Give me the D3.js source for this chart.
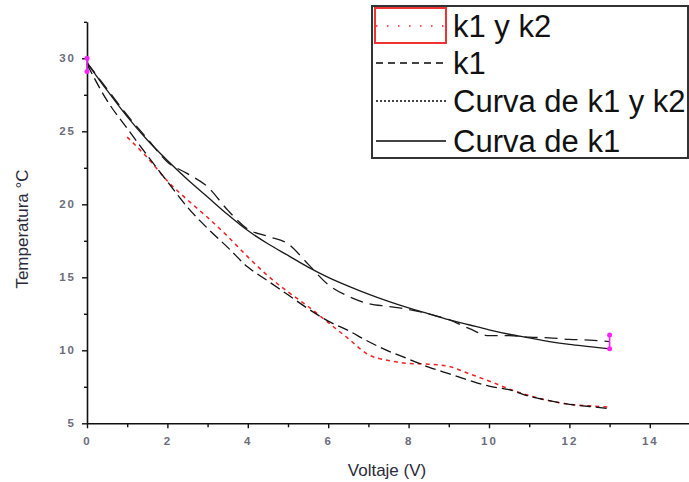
<!DOCTYPE html>
<html>
<head>
<meta charset="utf-8">
<script src="https://cdn.jsdelivr.net/npm/d3@7"></script>
<style>
  body { margin: 0; background: #fff; }
  svg { display: block; }
</style>
</head>
<body>
<svg id="chart"></svg>
<script>
// valores (Voltaje en V, Temperatura en °C)
const voltaje = [0, 0.5, 1, 1.5, 2, 2.5, 3, 3.5, 4, 4.5, 5, 5.5, 6, 6.5, 7, 7.5, 8, 8.5, 9, 9.5, 10, 10.5, 11, 11.5, 12, 12.5, 13];

const k1 = [29.7, 27.9, 26.1, 24.5, 22.9, 22.1, 21.2, 19.6, 18.3, 17.8, 17.3, 15.9, 14.5, 13.7, 13.2, 13.0, 12.8, 12.5, 12.1, 11.5, 11.0, 11.0, 10.9, 10.85, 10.75, 10.7, 10.6];
const curvaK1 = [29.7, 27.8, 26.0, 24.4, 23.0, 21.7, 20.5, 19.3, 18.2, 17.3, 16.5, 15.7, 15.0, 14.4, 13.85, 13.35, 12.9, 12.5, 12.1, 11.75, 11.4, 11.1, 10.85, 10.6, 10.4, 10.25, 10.1];
const curvaK1K2 = [29.6, 27.1, 25.2, 23.35, 21.55, 19.8, 18.35, 17.05, 15.7, 14.75, 13.8, 12.85, 12.0, 11.35, 10.6, 9.95, 9.4, 8.85, 8.4, 7.95, 7.55, 7.3, 6.85, 6.55, 6.3, 6.15, 6.0];
// la serie roja empieza en 1 V
const voltajeK1K2 = [1, 1.5, 2, 2.5, 3, 3.5, 4, 4.5, 5, 5.5, 6, 6.5, 7, 7.5, 8, 8.5, 9, 9.5, 10, 10.5, 11, 11.5, 12, 12.5, 13];
const k1k2 = [24.6, 23.2, 21.6, 20.3, 19.1, 17.8, 16.4, 15.1, 14.0, 13.0, 11.9, 10.8, 9.7, 9.3, 9.1, 9.05, 8.9, 8.4, 7.9, 7.35, 6.9, 6.55, 6.3, 6.2, 6.1];

// puntos magenta (barras) en los extremos
const marcasX = [0, 13];
const marcasAlto = [30.0, 11.05];
const marcasBajo = [29.1, 10.1];

const xTicks = [0, 2, 4, 6, 8, 10, 12, 14];
const xMinor = [1, 3, 5, 7, 9, 11, 13, 15];
const yTicks = [5, 10, 15, 20, 25, 30];
const yMinor = [7.5, 12.5, 17.5, 22.5, 27.5, 32.5];

const leyenda = ["k1 y k2", "k1", "Curva de k1 y k2", "Curva de k1"];

const width = 689, height = 482;
const svg = d3.select("#chart").attr("width", width).attr("height", height);

const x = d3.scaleLinear().domain([0, 15]).range([87, 690]);
const y = d3.scaleLinear().domain([5, 32.5]).range([423.3, 21.8]);

const tickFont = "'Liberation Sans', Arial, sans-serif";

// ejes
const xAxis = svg.append("g").attr("transform", `translate(0, ${y(5)})`)
    .call(d3.axisBottom(x).tickValues(xTicks).tickSize(5).tickSizeOuter(0).tickPadding(9));
const xAxisMinor = svg.append("g").attr("transform", `translate(0, ${y(5)})`)
    .call(d3.axisBottom(x).tickValues(xMinor).tickSize(4).tickSizeOuter(0).tickFormat(""));
const yAxis = svg.append("g").attr("transform", `translate(${x(0)}, 0)`)
    .call(d3.axisLeft(y).tickValues(yTicks).tickSize(5).tickSizeOuter(0).tickPadding(6));
const yAxisMinor = svg.append("g").attr("transform", `translate(${x(0)}, 0)`)
    .call(d3.axisLeft(y).tickValues(yMinor).tickSize(3).tickSizeOuter(0).tickFormat(""));

svg.selectAll(".domain").attr("stroke", "#111").attr("stroke-width", 1.6);
svg.selectAll(".tick line").attr("stroke", "#111").attr("stroke-width", 1.4);
xAxisMinor.select(".domain").remove();
yAxisMinor.select(".domain").remove();
svg.selectAll(".tick text")
    .attr("fill", "#6c6c7c")
    .attr("font-family", tickFont)
    .attr("font-weight", "bold")
    .attr("font-size", "11.5px")
    .attr("letter-spacing", "2px");

// titulos de ejes
svg.append("text")
    .attr("x", 387).attr("y", 476)
    .attr("text-anchor", "middle")
    .attr("font-family", tickFont)
    .attr("font-size", "17px")
    .attr("fill", "#2a2a3a")
    .text("Voltaje (V)");

svg.append("text")
    .attr("transform", "translate(28, 229) rotate(-90)")
    .attr("text-anchor", "middle")
    .attr("font-family", tickFont)
    .attr("font-size", "17px")
    .attr("fill", "#2a2a3a")
    .text("Temperatura °C");

// lineas
const line = d3.line().x(d => x(d[0])).y(d => y(d[1])).curve(d3.curveMonotoneX);

const series = [
    { xs: voltaje, ys: curvaK1, color: "#1a1a1a", w: 1.3, dash: null },
    { xs: voltaje, ys: k1, color: "#1a1a1a", w: 1.3, dash: "13,7" },
    { xs: voltajeK1K2, ys: k1k2, color: "#ee2222", w: 1.5, dash: "4,4" },
    { xs: voltaje, ys: curvaK1K2, color: "#111", w: 1.3, dash: "11,5" }
];

svg.append("g").selectAll("path")
    .data(series)
    .join("path")
    .attr("d", s => line(s.xs.map((v, i) => [v, s.ys[i]])))
    .attr("fill", "none")
    .attr("stroke", s => s.color)
    .attr("stroke-width", s => s.w)
    .attr("stroke-dasharray", s => s.dash);

// marcas magenta
const marcas = svg.append("g");
marcas.selectAll("line")
    .data(marcasX)
    .join("line")
    .attr("x1", d => x(d)).attr("x2", d => x(d))
    .attr("y1", (d, i) => y(marcasAlto[i]))
    .attr("y2", (d, i) => y(marcasBajo[i]))
    .attr("stroke", "#ff22ff").attr("stroke-width", 1.6);
marcas.selectAll("circle")
    .data(marcasX.flatMap((d, i) => [[d, marcasAlto[i]], [d, marcasBajo[i]]]))
    .join("circle")
    .attr("cx", d => x(d[0])).attr("cy", d => y(d[1]))
    .attr("r", 2.5)
    .attr("fill", "#ff22ff");

// leyenda
const leg = svg.append("g");
leg.append("rect")
    .attr("x", 372).attr("y", 6).attr("width", 316).attr("height", 152)
    .attr("fill", "#fff").attr("stroke", "#333").attr("stroke-width", 2);

const legRows = [
    { y: 26, color: "#ff5555", w: 1.8, dash: "1.5,9.5" },
    { y: 63, color: "#444", w: 1.8, dash: "7,5" },
    { y: 101, color: "#444", w: 1.8, dash: "2,2" },
    { y: 141, color: "#444", w: 1.8, dash: null }
];

leg.selectAll("line")
    .data(legRows)
    .join("line")
    .attr("x1", 376).attr("x2", 446)
    .attr("y1", d => d.y).attr("y2", d => d.y)
    .attr("stroke", d => d.color)
    .attr("stroke-width", d => d.w)
    .attr("stroke-dasharray", d => d.dash);

leg.append("rect")
    .attr("x", 375).attr("y", 8).attr("width", 71).attr("height", 35)
    .attr("fill", "none").attr("stroke", "#ee3333").attr("stroke-width", 2);

leg.selectAll("text")
    .data(leyenda)
    .join("text")
    .attr("x", 453)
    .attr("y", (d, i) => legRows[i].y + 11)
    .attr("font-family", tickFont)
    .attr("font-size", "31px")
    .attr("fill", "#111")
    .text(d => d);
</script>
</body>
</html>
